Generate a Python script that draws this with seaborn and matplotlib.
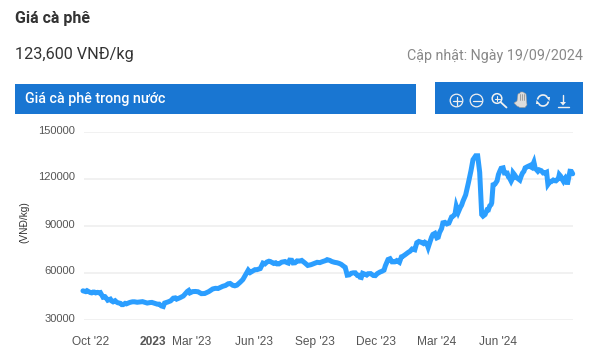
import matplotlib
matplotlib.use("Agg")
import matplotlib.pyplot as plt
import matplotlib.dates as mdates
from matplotlib.patches import Rectangle, Circle, Arc, Polygon
from matplotlib.transforms import ScaledTranslation
import numpy as np
import pandas as pd
import seaborn as sns

day_offset = [
    -12, -8, -4, -1, 3, 7, 10, 14, 18, 21,
    25, 29, 33, 36, 40, 44, 48, 53, 58, 65,
    73, 80, 88, 94, 99, 105, 110, 115, 119, 123,
    128, 133, 138, 144, 148, 152, 160, 170, 176, 182,
    190, 197, 205, 212, 218, 223, 227, 230, 235, 241,
    248, 253, 257, 263, 268, 273, 278, 285, 293, 297,
    302, 308, 315, 324, 333, 342, 347, 353, 360, 368,
    374, 380, 383, 389, 395, 400, 404, 409, 414, 422,
    428, 435, 440, 444, 450, 457, 461, 466, 474, 477,
    487, 494, 499, 504, 507, 511, 517, 521, 526, 532,
    537, 541, 546, 549, 552, 556, 560, 564, 568, 571,
    575, 578, 581, 584, 586, 589, 592, 596, 599, 601,
    604, 607, 611, 616, 620, 624, 628, 631, 636, 641,
    645, 649, 656, 659, 662, 665, 668, 673, 679, 683,
    688, 693, 697, 700, 703, 706, 709, 712, 716, 720,
]
price_vnd = [
    48300, 47800, 47900, 47200, 47500, 47000, 47300, 47200, 44200, 44500,
    42300, 43000, 41300, 42000, 40700, 40300, 39500, 40000, 40900, 41300,
    41200, 41000, 40800, 40500, 39800, 38700, 40500, 41200, 41900, 43600,
    43000, 43900, 45000, 47900, 47000, 47800, 47700, 46600, 47800, 49500,
    49800, 51200, 52800, 51800, 51900, 53800, 55500, 57800, 61500, 60800,
    61800, 62500, 66000, 66700, 67000, 65800, 65500, 66600, 66300, 67900,
    66100, 67400, 67700, 64500, 65700, 66300, 67100, 68200, 67000, 66200,
    65200, 63300, 58300, 59500, 59800, 58200, 56800, 59000, 59200, 58100,
    59300, 60800, 64300, 68300, 66800, 67600, 66500, 70300, 72800, 73600,
    79000, 79200, 79300, 76000, 80000, 84300, 82100, 85500, 91700, 91000,
    93500, 95900, 102300, 98500, 101500, 105500, 109500, 117000, 125000, 132000,
    134500, 134500, 124000, 97000, 96000, 97000, 100000, 102500, 104500, 116000,
    116500, 118500, 124600, 126800, 123500, 121000, 118300, 123600, 120500, 119000,
    123500, 126800, 128300, 127000, 130500, 126000, 124600, 125000, 123600, 116200,
    118000, 118600, 119300, 122500, 120000, 118300, 120500, 116200, 124600, 123000,
]
# further readings between the ones above, where the line is jagged
more_days = [
    -6, 1, 5, 12, 23, 31, 38, 46, 51, 62,
    69, 77, 84, 91, 102, 108, 126, 141, 146, 156,
    165, 186, 201, 208, 215, 225, 238, 245, 260, 266,
    276, 281, 290, 295, 300, 305, 312, 320, 329, 338,
    350, 357, 364, 371, 377, 386, 392, 398, 402, 406,
    412, 418, 425, 432, 438, 447, 454, 464, 470, 480,
    484, 490, 497, 502, 509, 514, 519, 524, 529, 535,
    539, 544, 554, 594, 598, 609, 613, 618, 622, 626,
    630, 633, 638, 643, 647, 652, 657, 661, 664, 670,
    676, 681, 686, 691, 695, 699, 702, 705, 708, 711,
    714, 718,
]
more_prices = [
    48400, 47000, 47500, 47000, 43500, 41800, 41200, 39500, 40300, 41300,
    41000, 41400, 40500, 40900, 39800, 38300, 43800, 46500, 48500, 47900,
    46500, 49900, 51700, 53000, 51500, 54700, 60000, 61800, 65500, 67200,
    66200, 65500, 67000, 66000, 67800, 66200, 67300, 66000, 65000, 66500,
    67500, 67700, 66500, 65800, 64200, 58500, 59800, 58200, 57000, 59500,
    58400, 59300, 58000, 60300, 61500, 68800, 66800, 70000, 71500, 75000,
    74500, 79800, 78500, 78500, 82500, 85000, 82500, 88000, 92000, 91500,
    95500, 97000, 103000, 100000, 103300, 122500, 126500, 123500, 123500, 120000,
    120000, 122500, 120000, 121500, 124500, 127500, 127500, 129500, 126500, 125500,
    123500, 124000, 118000, 119000, 118500, 120500, 121500, 119000, 120000, 118800,
    120500, 124500,
]
x_tick_dates = ["2022-10-01", "2023-01-01", "2023-03-01", "2023-06-01", "2023-09-01", "2023-12-01", "2024-03-01", "2024-06-01"]
x_tick_labels = ["Oct '22", "2023", "Mar '23", "Jun '23", "Sep '23", "Dec '23", "Mar '24", "Jun '24"]
y_ticks = [30000, 60000, 90000, 120000, 150000]

W, H = 591, 363
sns.set_theme(style="white")
plt.rcParams["font.family"] = ["Roboto", "DejaVu Sans"]

days = day_offset + more_days
prices = price_vnd + more_prices
df = pd.DataFrame({"date": pd.Timestamp("2022-10-01") + pd.to_timedelta(days, unit="D"), "price": prices})

fig = plt.figure(figsize=(W / 100, H / 100), dpi=100, facecolor="white")

# plot rectangle in figure pixels: x 84..573, y 131.5..319.5
ax = fig.add_axes([84 / W, 1 - 319.5 / H, 489 / W, 188 / H])
ax.set_facecolor("none")
sns.lineplot(data=df, x="date", y="price", ax=ax, color="#2B9EFF", linewidth=3.6, errorbar=None, clip_on=False)
ax.lines[-1].set_solid_joinstyle("miter")
x0 = mdates.date2num(pd.Timestamp("2022-10-01"))
ax.set_xlim(x0 - 7 / 0.669, x0 + 482 / 0.669)
ax.set_ylim(30000, 150000)
ax.set_yticks(y_ticks)
ax.set_xticks(mdates.date2num(pd.to_datetime(x_tick_dates)))
ax.set_xticklabels(x_tick_labels, family="Liberation Sans", fontsize=8.6, color="#555555")
for t in ax.get_xticklabels():
    if t.get_text() == "2023":
        t.set_fontweight("bold")
ax.set_yticklabels([str(v) for v in y_ticks], family="Liberation Sans", fontsize=8.0, color="#555555")
ax.tick_params(axis="x", length=0, pad=12)
ax.tick_params(axis="y", length=0, pad=6.5)
up = ScaledTranslation(0, 2 / 100, fig.dpi_scale_trans)
for t in ax.get_yticklabels():
    t.set_transform(t.get_transform() + up)
ax.set_xlabel("")
ax.set_ylabel("(VNĐ/kg)", family="Liberation Sans", fontsize=7.3, color="#333333", labelpad=0)
ax.yaxis.set_label_coords((29 - 84) / 489, (319.5 - 222) / 188)
ax.grid(axis="y", color="#EEEEEE", linewidth=1.1)
ax.grid(axis="x", visible=False)
ax.set_axisbelow(True)
sns.despine(ax=ax, left=True, bottom=True)

# page furniture in pixel coordinates
ov = fig.add_axes([0, 0, 1, 1], zorder=5)
ov.set_xlim(0, W)
ov.set_ylim(H, 0)
ov.axis("off")
blue = "#1976D2"
ov.add_patch(Rectangle((15, 84), 401, 30, fc=blue, ec="none"))
ov.add_patch(Rectangle((435, 82), 148, 32, fc=blue, ec="none"))
ov.text(15, 18, "Giá cà phê", fontsize=11.5, fontweight="bold", color="#333333", va="center", ha="left")
ov.text(15, 54, "123,600 VNĐ/kg", fontsize=11.7, color="#333333", va="center", ha="left")
ov.text(583, 56, "Cập nhật: Ngày 19/09/2024", fontsize=10.25, color="#888888", va="center", ha="right")
ov.text(25, 98.5, "Giá cà phê trong nước", fontsize=10.3, fontweight="medium", color="white", va="center", ha="left")

ic = "#F0F0F0"
lw = 0.9
# zoom in / out
ov.add_patch(Circle((456.5, 100.5), 6.3, fc="none", ec=ic, lw=lw))
ov.plot([452.5, 460.5], [100.5, 100.5], color=ic, lw=lw)
ov.plot([456.5, 456.5], [96.5, 104.5], color=ic, lw=lw)
ov.add_patch(Circle((476.5, 100.5), 6.3, fc="none", ec=ic, lw=lw))
ov.plot([472.5, 480.5], [100.5, 100.5], color=ic, lw=lw)
# magnifier
ov.add_patch(Circle((497, 98.5), 4.8, fc="none", ec=ic, lw=1.1))
ov.plot([494.5, 499.5], [98.5, 98.5], color=ic, lw=0.8)
ov.plot([497, 497], [96, 101], color=ic, lw=0.8)
ov.plot([500.5, 506.5], [102, 107.5], color=ic, lw=1.3)
# hand
ov.add_patch(Polygon([(514, 103), (517, 101), (518, 94), (520, 93), (520.5, 92), (523, 92), (524.5, 93), (526, 94),
                      (526.5, 100), (527, 105), (525, 107.5), (520, 107.5), (517, 106)], fc="#DDDDDD", ec="#999999", lw=0.4))
for fx in (520.2, 522.3, 524.4):
    ov.plot([fx, fx], [93.5, 100], color="#888888", lw=0.5)
# refresh
ov.add_patch(Arc((543, 100.5), 11, 11, theta1=190, theta2=320, ec=ic, lw=1.2))
ov.add_patch(Arc((543, 100.5), 11, 11, theta1=10, theta2=140, ec=ic, lw=1.2))
ov.add_patch(Polygon([(546, 97), (550, 97), (549.5, 101)], fc=ic, ec="none"))
ov.add_patch(Polygon([(536, 104), (540, 104), (536.5, 100)], fc=ic, ec="none"))
# download
ov.plot([563, 563], [95, 103], color=ic, lw=1.0)
ov.add_patch(Polygon([(560, 102), (566, 102), (563, 105.5)], fc=ic, ec="none"))
ov.plot([557.5, 568.5], [107, 107], color=ic, lw=1.0)

fig.savefig("out.png", dpi=100)
